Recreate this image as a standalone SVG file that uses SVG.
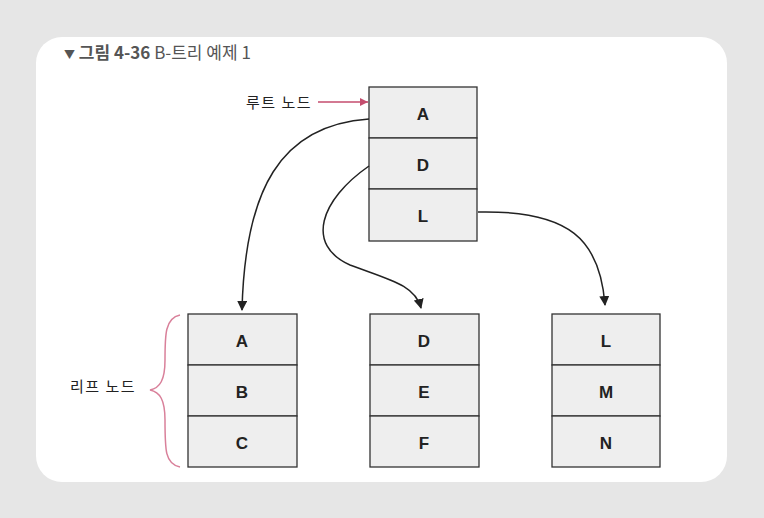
<svg xmlns="http://www.w3.org/2000/svg" width="764" height="518" viewBox="0 0 764 518">
<style>
.cell{fill:#eeeeee;stroke:#333;stroke-width:1.3}
.t{font-family:"Liberation Sans",sans-serif;font-size:17px;font-weight:bold;fill:#222;text-anchor:middle}
.k{font-family:"Noto Sans CJK KR",sans-serif;font-size:15px;fill:#222}
.c{fill:none;stroke:#222;stroke-width:1.5}
</style>
<defs>
<marker id="ah" markerWidth="10" markerHeight="10" refX="9" refY="5" orient="auto" markerUnits="userSpaceOnUse"><path d="M0,0 L10,5 L0,10 z" fill="#222"/></marker>
<marker id="ap" markerWidth="8" markerHeight="8" refX="8" refY="4" orient="auto" markerUnits="userSpaceOnUse"><path d="M0,0 L8,4 L0,8 z" fill="#c44d6e"/></marker>
</defs>
<rect width="764" height="518" fill="#e6e6e6"/>
<rect x="36" y="37" width="691" height="445" rx="26" fill="#fff"/>
<text x="64" y="59" font-family="Noto Sans CJK KR,sans-serif" font-size="17" fill="#555"><tspan font-size="11">▼</tspan> <tspan font-weight="bold">그림 4-36</tspan>  B-트리 예제 1</text>
<g id="root"><rect class="cell" x="369" y="87" width="108" height="51"/><rect class="cell" x="369" y="138" width="108" height="51"/><rect class="cell" x="369" y="189" width="108" height="52"/>
<text class="t" x="423" y="120">A</text><text class="t" x="423" y="171">D</text><text class="t" x="423" y="222">L</text></g>
<g id="leaf1"><rect class="cell" x="188" y="314" width="109" height="51"/><rect class="cell" x="188" y="365" width="109" height="51"/><rect class="cell" x="188" y="416" width="109" height="51"/>
<text class="t" x="242" y="347">A</text><text class="t" x="242" y="398">B</text><text class="t" x="242" y="449">C</text></g>
<g id="leaf2"><rect class="cell" x="370" y="314" width="109" height="51"/><rect class="cell" x="370" y="365" width="109" height="51"/><rect class="cell" x="370" y="416" width="109" height="51"/>
<text class="t" x="424" y="347">D</text><text class="t" x="424" y="398">E</text><text class="t" x="424" y="449">F</text></g>
<g id="leaf3"><rect class="cell" x="552" y="314" width="108" height="51"/><rect class="cell" x="552" y="365" width="108" height="51"/><rect class="cell" x="552" y="416" width="108" height="51"/>
<text class="t" x="606" y="347">L</text><text class="t" x="606" y="398">M</text><text class="t" x="606" y="449">N</text></g>
<g id="labels">
<text class="k" x="246" y="108" letter-spacing="1.5">루트 노드</text>
<text class="k" x="70" y="392" letter-spacing="1.5">리프 노드</text>
</g>
<g id="connectors">
<path class="c" d="M369,119 C280,125 245,190 242,310" marker-end="url(#ah)"/>
<path class="c" d="M369,166 C320,200 305,245 350,265 C390,280 415,285 421,308" marker-end="url(#ah)"/>
<path class="c" d="M478,212 C570,210 600,240 605,305" marker-end="url(#ah)"/>
<path d="M318,102 L368,102" stroke="#c44d6e" stroke-width="1.3" marker-end="url(#ap)"/>
<path d="M180,315 C165,318 165,335 165,360 C165,380 160,388 150,390 C160,392 165,400 165,420 C165,450 165,464 180,467" fill="none" stroke="#d9809a" stroke-width="1.5"/>
</g>
</svg>
